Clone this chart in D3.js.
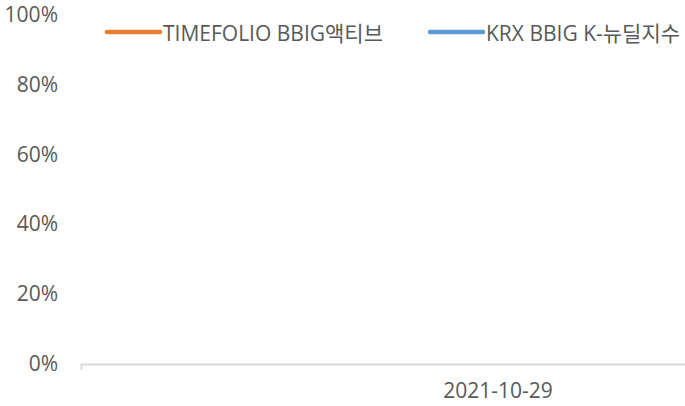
<!DOCTYPE html>
<html>
<head>
<meta charset="utf-8">
<script src="https://cdn.jsdelivr.net/npm/d3@7"></script>
<style>
  html, body { margin: 0; padding: 0; background: #fff; overflow: hidden; }
  text { font-family: "Open Sans", "Noto Sans CJK KR", sans-serif; fill: #595959; }
</style>
</head>
<body>
<div id="chart"></div>
<script>
// categories on the x axis (only one label visible in the crop)
const dates = ["2021-10-29"];
// series names and values (no visible points in the picture)
const seriesNames = ["TIMEFOLIO BBIG액티브", "KRX BBIG K-뉴딜지수"];
const seriesColors = ["#ed7d31", "#5b9bd5"];
const timefolio = [null];
const krxBbig = [null];
// y tick values
const yTicks = [0, 0.2, 0.4, 0.6, 0.8, 1.0];

const width = 685;
const height = 406;
const fontSize = "21px";

const svg = d3.select("#chart")
    .append("svg")
    .attr("width", width)
    .attr("height", height);

// plot runs past the right edge of the crop
const x = d3.scaleBand().domain(dates).range([81, 915]);
const y = d3.scaleLinear().domain([0, 1]).range([364, 15]);

// y labels, no axis line
svg.append("g")
    .selectAll("text")
    .data(yTicks)
    .join("text")
    .attr("x", 58)
    .attr("y", d => y(d) - 0.5)
    .attr("dy", "0.36em")
    .attr("text-anchor", "end")
    .style("font-size", fontSize)
    .text(d3.format(".0%"));

// x axis line + left tick
const xAxis = svg.append("g")
    .attr("transform", `translate(0,${y(0)})`)
    .call(d3.axisBottom(x).tickSize(0).tickSizeOuter(6).tickFormat(""));
xAxis.select(".domain").attr("stroke", "#d9d9d9").attr("stroke-width", 2);

svg.append("g")
    .selectAll("text")
    .data(dates)
    .join("text")
    .attr("x", d => x(d) + x.bandwidth() / 2)
    .attr("y", 398)
    .attr("text-anchor", "middle")
    .style("font-size", fontSize)
    .text(d => d);

// lines (empty in the picture)
const line = d3.line()
    .defined(d => d != null)
    .x((d, i) => x(dates[i]) + x.bandwidth() / 2)
    .y(d => y(d));

svg.append("g")
    .selectAll("path")
    .data([timefolio, krxBbig])
    .join("path")
    .attr("fill", "none")
    .attr("stroke", (d, i) => seriesColors[i])
    .attr("stroke-width", 3)
    .attr("d", line);

// legend
const legendX = [107, 430];
const legend = svg.append("g")
    .selectAll("g")
    .data(seriesNames)
    .join("g")
    .attr("transform", (d, i) => `translate(${legendX[i]},32)`);

legend.append("line")
    .attr("x1", 0).attr("x2", 53)
    .attr("stroke", (d, i) => seriesColors[i])
    .attr("stroke-width", 4.5)
    .attr("stroke-linecap", "round");

legend.append("text")
    .attr("x", 56)
    .attr("y", 8.5)
    .style("font-size", fontSize)
    .text(d => d);
</script>
</body>
</html>
